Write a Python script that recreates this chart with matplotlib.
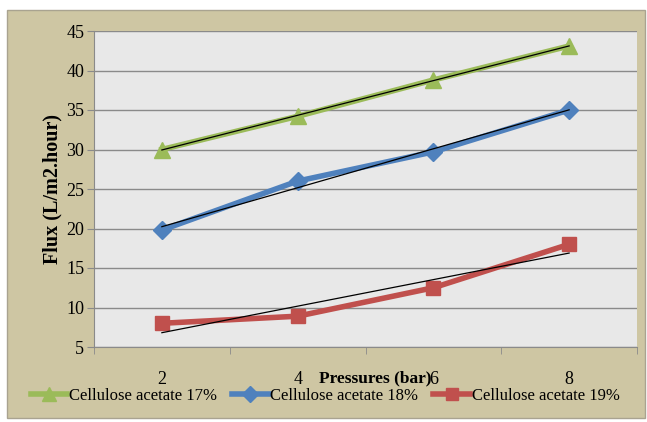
import matplotlib.pyplot as plt
from matplotlib.patches import Rectangle
import numpy as np

pressures = ['2', '4', '6', '8']
ca17 = [30.0, 34.2, 38.8, 43.1]
ca18 = [19.8, 26.0, 29.7, 35.0]
ca19 = [8.0, 8.9, 12.5, 18.0]
labels = ['Cellulose acetate 17%', 'Cellulose acetate 18%', 'Cellulose acetate 19%']

colors = ['#9bbb59', '#4f81bd', '#c0504d']
markers = ['^', 'D', 's']
msizes = [11, 9, 10]

plt.rcParams['font.family'] = ['Liberation Serif', 'DejaVu Serif']

W, H = 647, 422
fig = plt.figure(figsize=(W / 100, H / 100), dpi=100, facecolor='white')

# tan chart frame
fig.patches.append(Rectangle((7 / W, 4 / H), 638 / W, 408 / H, transform=fig.transFigure,
                             facecolor='#cec6a3', edgecolor='#a9a390', lw=1, zorder=-10))

ax = fig.add_axes([94 / W, 75 / H, 543 / W, 316 / H])
ax.set_facecolor('#e8e8e8')

x = np.arange(1, len(pressures) + 1)
series = [ca17, ca18, ca19]
for ys, lab, c, m, ms in zip(series, labels, colors, markers, msizes):
    ax.plot(x, ys, color=c, lw=4, marker=m, markersize=ms, label=lab, zorder=3)
    # linear trend line
    k, b = np.polyfit(x, ys, 1)
    ax.plot(x, k * x + b, color='black', lw=0.9, zorder=4)

ax.set_xlim(0.5, 4.5)
ax.set_ylim(5, 45)
ax.set_yticks(np.arange(5, 46, 5))
ax.yaxis.grid(True, color='#8a8a8a', lw=1)
ax.set_axisbelow(True)

ax.set_xticks(x)
ax.set_xticklabels(pressures)
ax.set_xticks(np.arange(0.5, 4.6, 1), minor=True)
ax.tick_params(axis='x', which='major', length=0, pad=17, labelsize=13)
ax.tick_params(axis='x', which='minor', length=5, color='#8a8a8a', direction='out')
ax.tick_params(axis='y', length=5, color='#8a8a8a', labelsize=13, pad=2)

for s in ['top', 'right']:
    ax.spines[s].set_visible(False)
for s in ['left', 'bottom']:
    ax.spines[s].set_color('#8a8a8a')

ax.set_ylabel('Flux (L/m2.hour)', fontsize=14.5, fontweight='bold', labelpad=3)
fig.text(375 / W, 1 - 378 / H, 'Pressures (bar)', ha='center', va='center',
         fontsize=12.5, fontweight='bold')

fig.legend(loc='center', bbox_to_anchor=(325 / W, 1 - 396 / H), ncol=3, frameon=False,
           fontsize=12, handlelength=2.2, handletextpad=0.1, columnspacing=0.9,
           markerscale=0.9)

fig.savefig('out.png', dpi=100, facecolor='white')
